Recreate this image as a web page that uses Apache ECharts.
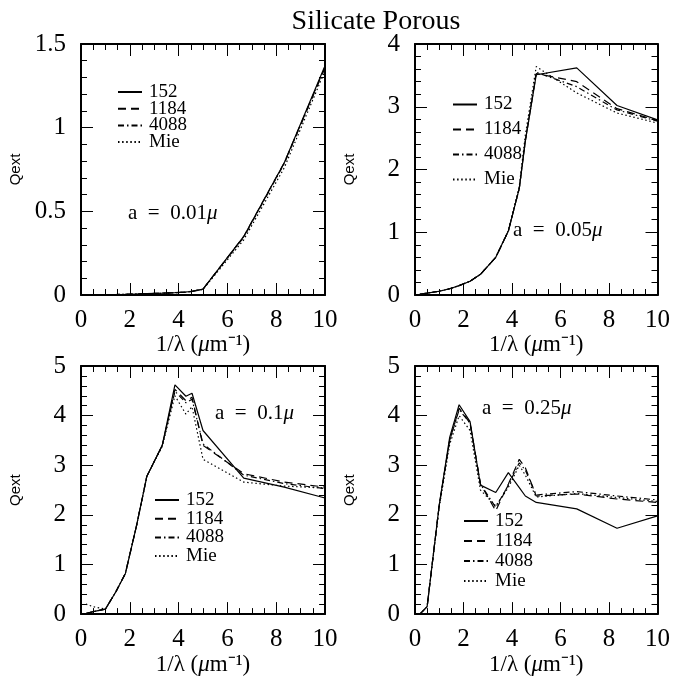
<!DOCTYPE html>
<html>
<head>
<meta charset="utf-8">
<script src="https://cdn.jsdelivr.net/npm/echarts@6/dist/echarts.min.js"></script>
<style>
  html, body { margin: 0; padding: 0; background: #fff; }
  #chart { width: 673px; height: 677px; }
</style>
</head>
<body>
<div id="chart"></div>
<script>
// ---------- data ----------
const TITLE = 'Silicate Porous';
const SERIES_NAMES = ['152', '1184', '4088', 'Mie'];
const SIZES = ['0.01', '0.05', '0.1', '0.25'];
// common 1/lambda grid (um^-1)
const X = [0.2, 0.5, 1.0, 1.43, 1.82, 2.27, 2.7, 3.33, 3.85, 4.3, 4.55, 5.0, 6.67, 8.33, 10.0];

// a = 0.01 micron
const A001_152  = [0.000, 0.001, 0.002, 0.003, 0.004, 0.006, 0.008, 0.011, 0.014, 0.018, 0.022, 0.035, 0.350, 0.790, 1.370];
const A001_1184 = [0.000, 0.001, 0.002, 0.003, 0.004, 0.006, 0.008, 0.011, 0.014, 0.018, 0.022, 0.035, 0.350, 0.790, 1.360];
const A001_4088 = [0.000, 0.001, 0.002, 0.003, 0.004, 0.006, 0.008, 0.011, 0.014, 0.018, 0.022, 0.035, 0.345, 0.785, 1.360];
const A001_MIE  = [0.000, 0.001, 0.002, 0.003, 0.004, 0.005, 0.007, 0.010, 0.013, 0.017, 0.021, 0.033, 0.330, 0.760, 1.340];

// a = 0.05 micron
const A005_152  = [0.01, 0.03, 0.06, 0.10, 0.15, 0.22, 0.33, 0.60, 1.02, 1.70, 2.45, 3.51, 3.62, 3.02, 2.79];
const A005_1184 = [0.01, 0.03, 0.06, 0.10, 0.15, 0.22, 0.33, 0.60, 1.02, 1.70, 2.45, 3.53, 3.40, 2.97, 2.78];
const A005_4088 = [0.01, 0.03, 0.06, 0.10, 0.15, 0.22, 0.33, 0.60, 1.02, 1.70, 2.47, 3.55, 3.32, 2.95, 2.77];
const A005_MIE  = [0.01, 0.03, 0.06, 0.10, 0.15, 0.22, 0.33, 0.60, 1.03, 1.73, 2.55, 3.64, 3.22, 2.90, 2.74];

// a = 0.1 micron
const A01_152  = [0.01, 0.05, 0.10, 0.45, 0.82, 1.77, 2.78, 3.40, 4.62, 4.39, 4.45, 3.70, 2.74, 2.56, 2.34];
const A01_1184 = [0.01, 0.05, 0.10, 0.45, 0.82, 1.77, 2.78, 3.40, 4.53, 4.30, 4.37, 3.40, 2.83, 2.66, 2.56];
const A01_4088 = [0.01, 0.05, 0.10, 0.45, 0.82, 1.77, 2.78, 3.40, 4.49, 4.26, 4.33, 3.43, 2.80, 2.63, 2.53];
const A01_MIE  = [0.20, 0.15, 0.10, 0.45, 0.82, 1.77, 2.78, 3.38, 4.40, 4.03, 4.18, 3.12, 2.66, 2.58, 2.54];

// a = 0.25 micron
const A025_152  = [0.00, 0.15, 2.20, 3.56, 4.22, 3.88, 2.60, 2.45, 2.85, 2.55, 2.38, 2.25, 2.12, 1.73, 1.98];
const A025_1184 = [0.00, 0.15, 2.20, 3.50, 4.15, 3.85, 2.62, 2.08, 2.62, 3.12, 2.95, 2.38, 2.42, 2.32, 2.25];
const A025_4088 = [0.00, 0.15, 2.20, 3.50, 4.12, 3.85, 2.62, 2.15, 2.60, 3.05, 2.90, 2.40, 2.47, 2.38, 2.30];
const A025_MIE  = [0.00, 0.15, 2.15, 3.42, 4.00, 3.70, 2.50, 2.18, 2.55, 3.00, 2.80, 2.36, 2.43, 2.35, 2.27];

const X_TICKS = { min: 0, max: 10, interval: 2 };
const Y_TICKS = [
  { min: 0, max: 1.5, interval: 0.5 },
  { min: 0, max: 4, interval: 1 },
  { min: 0, max: 5, interval: 1 },
  { min: 0, max: 5, interval: 1 }
];
const PANEL_DATA = [
  [A001_152, A001_1184, A001_4088, A001_MIE],
  [A005_152, A005_1184, A005_4088, A005_MIE],
  [A01_152, A01_1184, A01_4088, A01_MIE],
  [A025_152, A025_1184, A025_4088, A025_MIE]
];

// ---------- layout / style ----------
const SERIF = 'Liberation Serif';
const GRIDS = [
  { left: 81, top: 44, width: 244, height: 251 },
  { left: 415, top: 44, width: 244, height: 251 },
  { left: 81, top: 366, width: 244, height: 251 },
  { left: 415, top: 366, width: 244, height: 251 }
];
const LINE_TYPES = ['solid', [8, 5], [6, 3, 1.5, 3], [1.5, 2.6]];
const LEGEND_POS = [
  { left: 117, top: 82, itemGap: -3.3 },
  { left: 452, top: 94.5, itemGap: 5 },
  { left: 154, top: 490, itemGap: -1.3 },
  { left: 463, top: 511, itemGap: 0 }
];
const NOTE_POS = [
  { x: 128, y: 213 },
  { x: 513, y: 230 },
  { x: 215, y: 413 },
  { x: 482, y: 408 }
];

function pairs(xs, ys) { return xs.map((x, i) => [x, ys[i]]); }

const xAxes = [], yAxes = [], series = [], legends = [], graphics = [];
GRIDS.forEach((g, gi) => {
  const common = {
    gridIndex: gi,
    axisLine: { show: true, onZero: false, lineStyle: { color: '#000', width: 2 } },
    axisTick: { show: true, inside: true, length: 12, lineStyle: { color: '#000', width: 1 } },
    minorTick: { show: true, length: 6, lineStyle: { color: '#000', width: 1 } },
    splitLine: { show: false },
    minorSplitLine: { show: false }
  };
  const lbl = { show: true, color: '#000', fontFamily: SERIF, fontSize: 25 };
  xAxes.push(Object.assign({}, common, {
    type: 'value', position: 'bottom', min: X_TICKS.min, max: X_TICKS.max, interval: X_TICKS.interval,
    minorTick: Object.assign({}, common.minorTick, { splitNumber: 4 }),
    axisLabel: Object.assign({}, lbl, { margin: 13 }),
    name: '1/λ ({i|μ}m⁻¹)', nameLocation: 'middle', nameGap: 32,
    nameTextStyle: { color: '#000', fontFamily: SERIF, fontSize: 23,
      rich: { i: { fontStyle: 'italic', fontFamily: SERIF, fontSize: 23, color: '#000' } } }
  }));
  xAxes.push(Object.assign({}, common, {
    type: 'value', position: 'top', min: X_TICKS.min, max: X_TICKS.max, interval: X_TICKS.interval,
    minorTick: Object.assign({}, common.minorTick, { splitNumber: 4 }),
    axisLabel: { show: false }
  }));
  const yt = Y_TICKS[gi];
  yAxes.push(Object.assign({}, common, {
    type: 'value', position: 'left', min: yt.min, max: yt.max, interval: yt.interval,
    minorTick: Object.assign({}, common.minorTick, { splitNumber: 5 }),
    axisLabel: Object.assign({}, lbl, { margin: 15 }),
    name: 'Qext', nameLocation: 'middle', nameGap: 58, nameRotate: 90,
    nameTextStyle: { color: '#000', fontFamily: 'Liberation Sans', fontSize: 15 }
  }));
  yAxes.push(Object.assign({}, common, {
    type: 'value', position: 'right', min: yt.min, max: yt.max, interval: yt.interval,
    minorTick: Object.assign({}, common.minorTick, { splitNumber: 5 }),
    axisLabel: { show: false }
  }));
  SERIES_NAMES.forEach((name, si) => {
    series.push({
      type: 'line', name: name,
      xAxisIndex: gi * 2, yAxisIndex: gi * 2,
      data: pairs(X, PANEL_DATA[gi][si]),
      symbol: 'none', smooth: false, silent: true,
      lineStyle: { color: '#000', width: 1.2, type: LINE_TYPES[si] },
      itemStyle: { color: '#000' }
    });
  });
  const lp = LEGEND_POS[gi];
  legends.push({
    data: SERIES_NAMES, orient: 'vertical', left: lp.left, top: lp.top, itemGap: lp.itemGap,
    itemWidth: 24, itemHeight: 12, padding: 0, selectedMode: false,
    itemStyle: { opacity: 0 },
    textStyle: { color: '#000', fontFamily: SERIF, fontSize: 19, lineHeight: 14, padding: [0, 0, 6, 2] }
  });
  const np = NOTE_POS[gi];
  graphics.push({
    type: 'text', x: np.x, y: np.y,
    style: {
      text: 'a  =  ' + SIZES[gi] + '{i|μ}',
      fill: '#000', font: '21px "' + SERIF + '"', textVerticalAlign: 'middle',
      rich: { i: { fontStyle: 'italic', fontFamily: SERIF, fontSize: 21, fill: '#000' } }
    }
  });
});
graphics.push({
  type: 'text', x: 376, y: 22,
  style: { text: TITLE, fill: '#000', font: '28px "' + SERIF + '"', textAlign: 'center', textVerticalAlign: 'middle' }
});

const chart = echarts.init(document.getElementById('chart'), null, { renderer: 'canvas' });
chart.setOption({
  animation: false,
  backgroundColor: '#fff',
  grid: GRIDS.map(g => Object.assign({ containLabel: false }, g)),
  xAxis: xAxes,
  yAxis: yAxes,
  legend: legends,
  series: series,
  graphic: graphics
});
</script>
</body>
</html>
